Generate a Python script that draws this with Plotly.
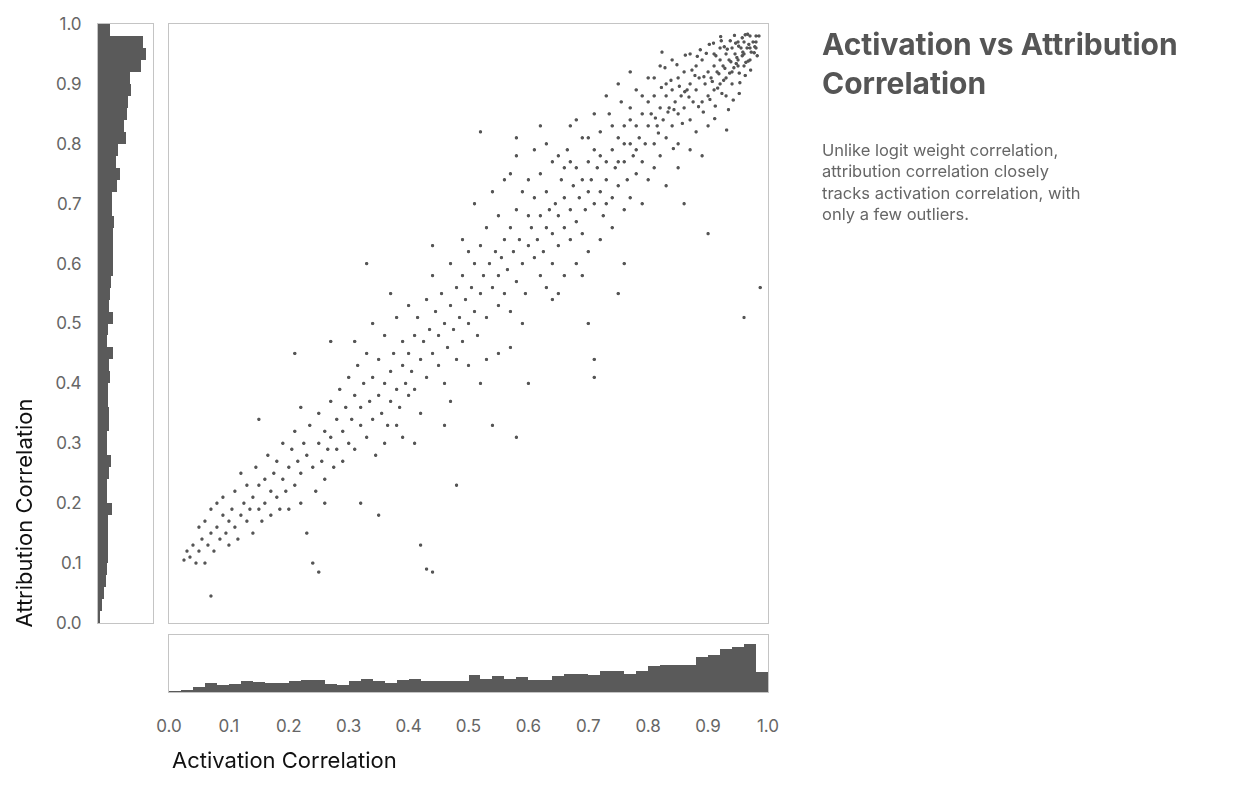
import plotly.graph_objects as go

# ---------------- data ----------------
scatter_points = [
(0.025,0.105),(0.03,0.12),(0.035,0.11),(0.04,0.13),(0.045,0.10),(0.05,0.16),(0.05,0.12),(0.055,0.14),(0.06,0.10),(0.06,0.17),(0.065,0.13),(0.07,0.19),(0.07,0.15),(0.075,0.12),(0.08,0.20),(0.08,0.16),(0.085,0.14),(0.09,0.18),(0.09,0.21),(0.095,0.15),(0.10,0.17),(0.10,0.13),(0.07,0.045),
(0.105,0.19),(0.11,0.16),(0.11,0.22),(0.115,0.14),(0.12,0.18),(0.12,0.25),(0.125,0.20),(0.13,0.17),(0.13,0.23),(0.135,0.19),(0.14,0.21),(0.14,0.15),(0.145,0.26),(0.15,0.19),(0.15,0.23),(0.155,0.17),(0.16,0.24),(0.16,0.20),(0.165,0.28),(0.17,0.22),(0.17,0.18),(0.175,0.25),(0.18,0.21),(0.18,0.27),(0.185,0.19),(0.19,0.24),(0.19,0.30),(0.195,0.22),(0.20,0.26),(0.20,0.19),(0.15,0.34),
(0.205,0.29),(0.21,0.23),(0.21,0.32),(0.215,0.27),(0.22,0.20),(0.22,0.25),(0.225,0.30),(0.23,0.28),(0.23,0.15),(0.235,0.33),(0.24,0.26),(0.24,0.10),(0.245,0.22),(0.25,0.30),(0.25,0.35),(0.25,0.085),(0.255,0.27),(0.26,0.32),(0.26,0.24),(0.265,0.29),(0.27,0.37),(0.27,0.31),(0.275,0.26),(0.28,0.34),(0.28,0.29),(0.285,0.39),(0.29,0.32),(0.29,0.27),(0.295,0.36),(0.30,0.30),(0.30,0.41),(0.21,0.45),(0.27,0.47),(0.22,0.36),(0.26,0.20),
(0.305,0.34),(0.31,0.38),(0.31,0.29),(0.315,0.43),(0.32,0.33),(0.32,0.36),(0.325,0.40),(0.33,0.31),(0.33,0.45),(0.335,0.37),(0.34,0.34),(0.34,0.41),(0.345,0.28),(0.35,0.38),(0.35,0.44),(0.35,0.18),(0.355,0.35),(0.36,0.40),(0.36,0.48),(0.365,0.33),(0.37,0.42),(0.37,0.37),(0.375,0.45),(0.38,0.39),(0.38,0.51),(0.385,0.36),(0.39,0.43),(0.39,0.47),(0.395,0.40),(0.40,0.38),(0.40,0.45),(0.40,0.53),(0.33,0.60),(0.32,0.20),(0.36,0.30),(0.38,0.33),(0.31,0.47),(0.34,0.50),(0.37,0.55),(0.39,0.31),
(0.405,0.42),(0.41,0.48),(0.41,0.39),(0.415,0.51),(0.42,0.44),(0.42,0.13),(0.425,0.47),(0.43,0.41),(0.43,0.54),(0.43,0.09),(0.435,0.49),(0.44,0.45),(0.44,0.085),(0.44,0.58),(0.445,0.52),(0.45,0.43),(0.45,0.48),(0.455,0.55),(0.46,0.50),(0.46,0.40),(0.465,0.46),(0.47,0.53),(0.47,0.60),(0.475,0.49),(0.48,0.44),(0.48,0.56),(0.48,0.23),(0.485,0.51),(0.49,0.58),(0.49,0.47),(0.495,0.54),(0.50,0.50),(0.50,0.62),(0.50,0.43),(0.42,0.35),(0.46,0.33),(0.44,0.63),(0.47,0.37),(0.41,0.30),(0.49,0.64),
(0.505,0.56),(0.51,0.52),(0.51,0.60),(0.515,0.48),(0.52,0.55),(0.52,0.63),(0.52,0.82),(0.525,0.58),(0.53,0.51),(0.53,0.66),(0.535,0.60),(0.54,0.56),(0.54,0.33),(0.545,0.62),(0.55,0.53),(0.55,0.58),(0.55,0.68),(0.555,0.61),(0.56,0.55),(0.56,0.64),(0.565,0.59),(0.57,0.66),(0.57,0.52),(0.575,0.62),(0.58,0.57),(0.58,0.69),(0.58,0.81),(0.58,0.78),(0.58,0.31),(0.585,0.64),(0.59,0.60),(0.59,0.72),(0.595,0.55),(0.60,0.63),(0.60,0.68),(0.60,0.40),(0.51,0.70),(0.53,0.44),(0.56,0.74),(0.57,0.46),(0.54,0.72),(0.59,0.50),(0.52,0.40),(0.55,0.45),(0.57,0.75),
(0.605,0.66),(0.61,0.61),(0.61,0.71),(0.615,0.64),(0.62,0.58),(0.62,0.68),(0.62,0.75),(0.625,0.62),(0.63,0.66),(0.63,0.72),(0.635,0.69),(0.64,0.60),(0.64,0.65),(0.64,0.77),(0.645,0.70),(0.65,0.63),(0.65,0.68),(0.65,0.55),(0.655,0.74),(0.66,0.66),(0.66,0.71),(0.665,0.79),(0.67,0.64),(0.67,0.69),(0.675,0.73),(0.68,0.67),(0.68,0.76),(0.685,0.71),(0.69,0.65),(0.69,0.74),(0.69,0.81),(0.695,0.69),(0.70,0.72),(0.70,0.77),(0.70,0.50),(0.70,0.62),(0.61,0.79),(0.63,0.56),(0.66,0.58),(0.68,0.60),(0.62,0.83),(0.67,0.83),(0.64,0.54),(0.66,0.76),(0.69,0.58),(0.65,0.78),(0.63,0.80),(0.67,0.77),(0.68,0.84),(0.60,0.74),
(0.705,0.74),(0.71,0.70),(0.71,0.79),(0.71,0.41),(0.71,0.44),(0.715,0.76),(0.72,0.72),(0.72,0.82),(0.725,0.68),(0.73,0.77),(0.73,0.74),(0.735,0.85),(0.74,0.71),(0.74,0.79),(0.745,0.76),(0.75,0.81),(0.75,0.73),(0.75,0.55),(0.755,0.87),(0.76,0.77),(0.76,0.83),(0.765,0.74),(0.77,0.80),(0.77,0.86),(0.775,0.78),(0.78,0.83),(0.78,0.75),(0.78,0.89),(0.785,0.81),(0.79,0.77),(0.79,0.85),(0.795,0.80),(0.80,0.83),(0.80,0.87),(0.80,0.74),(0.72,0.64),(0.74,0.66),(0.76,0.69),(0.73,0.88),(0.77,0.92),(0.79,0.70),(0.71,0.85),(0.75,0.90),(0.77,0.71),(0.72,0.78),(0.74,0.83),(0.76,0.80),(0.78,0.79),(0.79,0.88),(0.73,0.70),(0.75,0.77),(0.77,0.84),(0.80,0.91),(0.76,0.60),(0.70,0.81),
(0.805,0.85),(0.81,0.80),(0.81,0.88),(0.81,0.91),(0.815,0.83),(0.82,0.86),(0.82,0.78),(0.82,0.93),(0.825,0.84),(0.83,0.88),(0.83,0.81),(0.83,0.90),(0.835,0.86),(0.84,0.83),(0.84,0.89),(0.84,0.94),(0.845,0.87),(0.85,0.85),(0.85,0.91),(0.85,0.80),(0.855,0.88),(0.86,0.86),(0.86,0.92),(0.86,0.70),(0.865,0.89),(0.87,0.84),(0.87,0.90),(0.87,0.95),(0.875,0.87),(0.88,0.89),(0.88,0.93),(0.88,0.82),(0.885,0.91),(0.89,0.87),(0.89,0.94),(0.895,0.90),(0.90,0.88),(0.90,0.92),(0.90,0.65),(0.90,0.83),(0.81,0.76),(0.83,0.73),(0.85,0.76),(0.87,0.79),(0.89,0.78),(0.822,0.894),(0.843,0.857),(0.861,0.887),(0.884,0.862),(0.817,0.818),(0.838,0.906),(0.857,0.834),(0.878,0.914),(0.833,0.853),(0.852,0.896),(0.873,0.923),(0.893,0.912),(0.812,0.843),(0.848,0.932),(0.887,0.957),(0.828,0.927),(0.868,0.878),(0.862,0.948),(0.842,0.792),(0.882,0.946),(0.823,0.953),(0.897,0.951),(0.892,0.853),
(0.905,0.91),(0.91,0.89),(0.91,0.93),(0.91,0.95),(0.915,0.92),(0.92,0.90),(0.92,0.94),(0.92,0.96),(0.925,0.93),(0.93,0.91),(0.93,0.95),(0.93,0.88),(0.935,0.94),(0.94,0.92),(0.94,0.96),(0.94,0.90),(0.945,0.95),(0.95,0.93),(0.95,0.97),(0.95,0.94),(0.955,0.96),(0.96,0.95),(0.96,0.97),(0.96,0.93),(0.965,0.96),(0.97,0.96),(0.97,0.98),(0.97,0.94),(0.975,0.97),(0.98,0.97),(0.98,0.98),(0.98,0.96),(0.985,0.98),(0.987,0.56),(0.96,0.51),(0.912,0.863),(0.923,0.884),(0.934,0.857),(0.942,0.873),(0.953,0.902),(0.962,0.914),(0.907,0.904),(0.918,0.917),(0.928,0.926),(0.938,0.937),(0.948,0.944),(0.958,0.953),(0.968,0.966),(0.913,0.947),(0.927,0.962),(0.937,0.972),(0.946,0.968),(0.957,0.977),(0.966,0.983),(0.977,0.952),(0.943,0.927),(0.952,0.918),(0.963,0.936),(0.922,0.972),(0.932,0.958),(0.947,0.934),(0.957,0.947),(0.967,0.938),(0.978,0.962),(0.903,0.874),(0.916,0.893),(0.926,0.906),(0.936,0.918),(0.951,0.963),(0.962,0.982),(0.972,0.953),(0.982,0.947),(0.911,0.842),(0.931,0.823),(0.952,0.884),(0.971,0.923),(0.944,0.981),(0.921,0.979),(0.909,0.968),(0.902,0.966),
]
activation_corr = [p[0] for p in scatter_points]
attribution_corr = [p[1] for p in scatter_points]

bin_width = 0.02
# counts per 0.02 bin, from 0.0 upwards
activation_hist = [1,6,16,28,21,24,31,29,26,28,31,34,36,24,21,33,38,33,27,36,39,33,31,31,32,49,37,48,38,44,36,36,48,54,53,50,61,62,52,62,78,79,81,81,102,108,126,133,141,59]
# counts per 0.02 bin, listed from 1.0 downwards
attribution_hist_top_down = [37,138,147,130,97,101,92,88,79,84,62,55,67,58,43,41,50,45,45,45,47,38,35,32,45,30,27,45,33,35,29,30,33,32,28,27,38,32,28,27,42,30,30,31,30,27,23,17,11,5]
attribution_hist = attribution_hist_top_down[::-1]
bin_centers = [bin_width * (i + 0.5) for i in range(50)]

tick_vals = [i / 10 for i in range(11)]
tick_text = [f"{v:.1f}" for v in tick_vals]

title = "Activation vs Attribution<br>Correlation"
subtitle = ("Unlike logit weight correlation,<br>attribution correlation closely<br>"
            "tracks activation correlation, with<br>only a few outliers.")

# ---------------- figure ----------------
OFF = 8
W, H = 1255 - 2 * OFF, 785 - 2 * OFF
def fx(px): return (px - OFF) / W
def fy(py): return 1 - (py - OFF) / H

BAR = "#5a5a5a"
BORDER = "#c4c4c4"
TICK = "#666666"
FONT = "Inter, Roboto, sans-serif"

fig = go.Figure()
fig.add_trace(go.Scattergl(x=activation_corr, y=attribution_corr, mode="markers",
                           marker=dict(size=3.5, color="#555555"), xaxis="x", yaxis="y",
                           hoverinfo="skip"))
fig.add_trace(go.Bar(x=bin_centers, y=activation_hist, width=bin_width, marker_color=BAR,
                     marker_line_width=0, xaxis="x2", yaxis="y2"))
fig.add_trace(go.Bar(y=bin_centers, x=attribution_hist, width=bin_width, orientation="h",
                     marker_color=BAR, marker_line_width=0, xaxis="x3", yaxis="y3"))

box = dict(showline=True, linecolor=BORDER, linewidth=1, mirror=True, showgrid=False,
           zeroline=False, automargin=False)

fig.update_layout(
    width=W, height=H, margin=dict(l=0, r=0, t=0, b=0, autoexpand=False),
    paper_bgcolor="white", plot_bgcolor="white", showlegend=False, bargap=0,
    font=dict(family=FONT, color=TICK, size=16),
    xaxis=dict(domain=[fx(169), fx(768)], range=[0, 1], showticklabels=False, ticks="", anchor="y", **box),
    yaxis=dict(domain=[fy(623), fy(24)], range=[0, 1], showticklabels=False, ticks="", anchor="x", **box),
    xaxis2=dict(domain=[fx(169), fx(768)], range=[0, 1], anchor="y2", tickvals=tick_vals, ticktext=tick_text,
                ticks="", ticklabelstandoff=19, tickfont=dict(size=17, color=TICK), **box),
    yaxis2=dict(domain=[fy(692), fy(635)], range=[0, 168], showticklabels=False, ticks="", anchor="x2", **box),
    xaxis3=dict(domain=[fx(98), fx(153)], range=[0, 167], showticklabels=False, ticks="", anchor="y3", **box),
    yaxis3=dict(domain=[fy(623), fy(24)], range=[0, 1], anchor="x3", tickvals=tick_vals, ticktext=tick_text,
                ticks="", ticklabelstandoff=12, tickfont=dict(size=17, color=TICK), **box),
)

fig.add_annotation(text="Activation Correlation", x=fx(170), y=fy(760), xref="paper", yref="paper",
                   xanchor="left", yanchor="middle", showarrow=False,
                   font=dict(size=22, color="#111111", family=FONT))
fig.add_annotation(text="Attribution Correlation", x=fx(OFF), y=fy(630), xref="paper", yref="paper",
                   xanchor="left", yanchor="bottom", textangle=-90, showarrow=False,
                   font=dict(size=22, color="#111111", family=FONT))
fig.add_annotation(text=f"<b>{title}</b>", x=fx(820), y=fy(24), xref="paper", yref="paper",
                   xanchor="left", yanchor="top", align="left", showarrow=False,
                   font=dict(size=30, color="#555555", family=FONT))
fig.add_annotation(text=subtitle, x=fx(820), y=fy(138), xref="paper", yref="paper",
                   xanchor="left", yanchor="top", align="left", showarrow=False,
                   font=dict(size=16.5, color="#666666", family=FONT))

fig.write_html("out.html")
